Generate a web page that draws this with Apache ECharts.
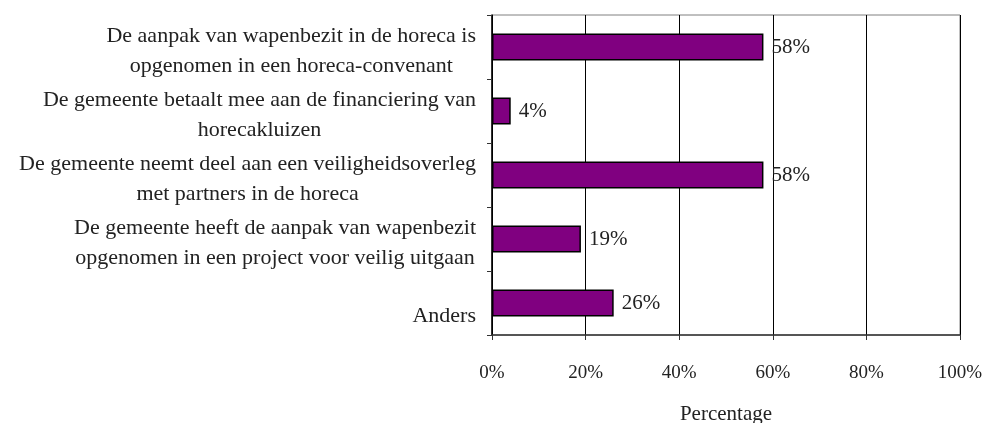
<!DOCTYPE html>
<html>
<head>
<meta charset="utf-8">
<script src="https://cdn.jsdelivr.net/npm/echarts@6/dist/echarts.min.js"></script>
<style>
  html, body { margin: 0; padding: 0; background: #fff; }
  #chart { width: 985px; height: 423px; }
</style>
</head>
<body>
<div id="chart"></div>
<script>
// categories top to bottom, each line of a label is a separate entry
const categories = [
  ['De aanpak van wapenbezit in de horeca is', 'opgenomen in een horeca-convenant'],
  ['De gemeente betaalt mee aan de financiering van', 'horecakluizen'],
  ['De gemeente neemt deel aan een veiligheidsoverleg', 'met partners in de horeca'],
  ['De gemeente heeft de aanpak van wapenbezit', 'opgenomen in een project voor veilig uitgaan'],
  ['Anders']
];
const values = [58, 4, 58, 19, 26];
const axisName = 'Percentage';

const font = '"Liberation Serif", "DejaVu Serif", serif';
const chart = echarts.init(document.getElementById('chart'));

// y axis categories run bottom-up, so reverse
const catNames = categories.map((c) => c.join('\n')).reverse();
const catValues = values.slice().reverse();

chart.setOption({
  backgroundColor: '#fff',
  animation: false,
  grid: {
    left: 492, right: 25, top: 15, bottom: 88,
    outerBoundsMode: 'none',
    show: true, borderColor: '#808080', borderWidth: 1
  },
  xAxis: {
    type: 'value',
    min: 0,
    max: 100,
    interval: 20,
    name: axisName,
    nameLocation: 'middle',
    nameGap: 69,
    nameTextStyle: { fontFamily: font, fontSize: 21, color: '#222', verticalAlign: 'top' },
    axisLine: { show: true, lineStyle: { color: '#333', width: 1.5 } },
    axisTick: { show: true, length: 5, lineStyle: { color: '#333' } },
    axisLabel: { formatter: '{value}%', fontFamily: font, fontSize: 19, color: '#222', margin: 29 },
    splitLine: { show: true, lineStyle: { color: '#000', width: 1 } }
  },
  yAxis: {
    type: 'category',
    data: catNames,
    axisLine: { show: true, lineStyle: { color: '#000', width: 1.5 } },
    axisTick: { show: true, length: 5, lineStyle: { color: '#333' } },
    axisLabel: {
      interval: 0,
      hideOverlap: false,
      margin: 16,
      lineHeight: 30,
      padding: [8, 0, 0, 0],
      formatter: (v) => {
        const lines = v.split('\n');
        // single-line labels sit a bit lower in the original
        if (lines.length === 1) return '{s|' + lines[0] + '}';
        return lines.map((l) => '{c|' + l + '}').join('\n');
      },
      rich: {
        c: { align: 'center', fontFamily: font, fontSize: 22, color: '#222', lineHeight: 30 },
        s: { align: 'center', fontFamily: font, fontSize: 22, color: '#222', lineHeight: 30, padding: [18, 0, 0, 0] }
      }
    }
  },
  series: [{
    type: 'bar',
    data: catValues,
    barWidth: 27,
    itemStyle: { color: '#800080', borderColor: '#000', borderWidth: 1.5 },
    label: {
      show: true,
      position: 'right',
      distance: 8,
      formatter: '{c}%',
      fontFamily: font,
      fontSize: 21,
      color: '#222'
    }
  }]
});
</script>
</body>
</html>
